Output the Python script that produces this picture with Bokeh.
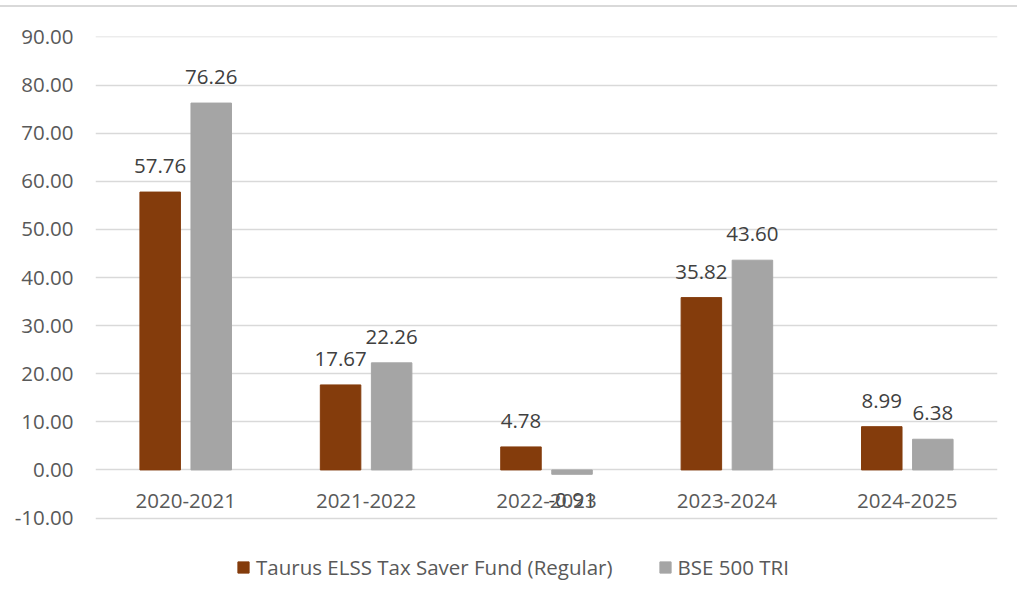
from bokeh.plotting import figure
from bokeh.layouts import column
from bokeh.models import (ColumnDataSource, FixedTicker, NumeralTickFormatter,
                          Legend, LegendItem, Div)
from bokeh.transform import dodge
from bokeh.core.properties import value
from bokeh.embed import file_html
from bokeh.resources import INLINE

years = ["2020-2021", "2021-2022", "2022-2023", "2023-2024", "2024-2025"]
fund = [57.76, 17.67, 4.78, 35.82, 8.99]
bench = [76.26, 22.26, -0.91, 43.60, 6.38]
fund_name = "Taurus ELSS Tax Saver Fund (Regular)"
bench_name = "BSE 500 TRI"
y_ticks = [-10, 0, 10, 20, 30, 40, 50, 60, 70, 80, 90]

FONT = "Open Sans"
FS = "20.5px"
BROWN = "#843C0C"
GRAY = "#A5A5A5"

src = ColumnDataSource(dict(
    years=years, fund=fund, bench=bench,
    fund_lbl=[f"{v:.2f}" for v in fund],
    bench_lbl=[f"{v:.2f}" for v in bench],
    bench_off=[-26 if v >= 0 else 26 for v in bench],
    fund_off=[-26 if v >= 0 else 26 for v in fund],
    zero=[0] * len(years),
))

# frame extends below the -10 line so the legend can sit inside it
p = figure(x_range=years, y_range=(-27.35, 90.1), width=1017, height=594,
           frame_width=902, frame_height=565,
           min_border_left=95, min_border_top=29, min_border_right=20,
           min_border_bottom=0,
           output_backend="svg", toolbar_location=None)
p.outline_line_color = None
p.background_fill_color = "white"
p.border_fill_color = "white"

off = 0.1415
w = 0.2245
r1 = p.vbar(x=dodge("years", -off, range=p.x_range), top="fund", bottom=0, width=w,
            source=src, fill_color=BROWN, line_color=BROWN)
r2 = p.vbar(x=dodge("years", off, range=p.x_range), top="bench", bottom=0, width=w,
            source=src, fill_color=GRAY, line_color=GRAY)

p.text(x=dodge("years", -off, range=p.x_range), y="fund", text="fund_lbl", source=src,
       y_offset="fund_off", text_align="center", text_baseline="alphabetic",
       text_font=value(FONT), text_font_size=FS, text_color="#404040")
p.text(x=dodge("years", off, range=p.x_range), y="bench", text="bench_lbl", source=src,
       y_offset="bench_off", text_align="center", text_baseline="alphabetic",
       text_font=value(FONT), text_font_size=FS, text_color="#404040")

# category labels at the zero line
p.text(x="years", y="zero", text="years", source=src, y_offset=31,
       text_align="center", text_baseline="alphabetic",
       text_font=value(FONT), text_font_size=FS, text_color="#595959")

p.xaxis.visible = False
p.xgrid.grid_line_color = None
p.ygrid.grid_line_color = "#D9D9D9"
p.ygrid.grid_line_width = 1.3

ya = p.yaxis[0]
ya.ticker = FixedTicker(ticks=y_ticks)
ya.formatter = NumeralTickFormatter(format="0.00")
ya.axis_line_color = None
ya.major_tick_line_color = None
ya.minor_tick_line_color = None
ya.major_label_standoff = 16
ya.major_label_text_font = FONT
ya.major_label_text_font_size = FS
ya.major_label_text_color = "#595959"

legend = Legend(items=[LegendItem(label=fund_name, renderers=[r1]),
                       LegendItem(label=bench_name, renderers=[r2])],
                orientation="horizontal", location=(141, 20),
                padding=0, margin=0, spacing=45, label_standoff=6,
                glyph_width=14, glyph_height=14,
                label_text_font=FONT, label_text_font_size=FS,
                label_text_color="#595959",
                border_line_color=None, background_fill_alpha=0)
p.add_layout(legend, "center")

top_line = Div(width=1017, height=7, margin=0,
               styles={"border-bottom": "2px solid #D9D9D9", "box-sizing": "border-box"})

layout = column(top_line, p, spacing=0)
open("out.html", "w").write(file_html(layout, INLINE))
